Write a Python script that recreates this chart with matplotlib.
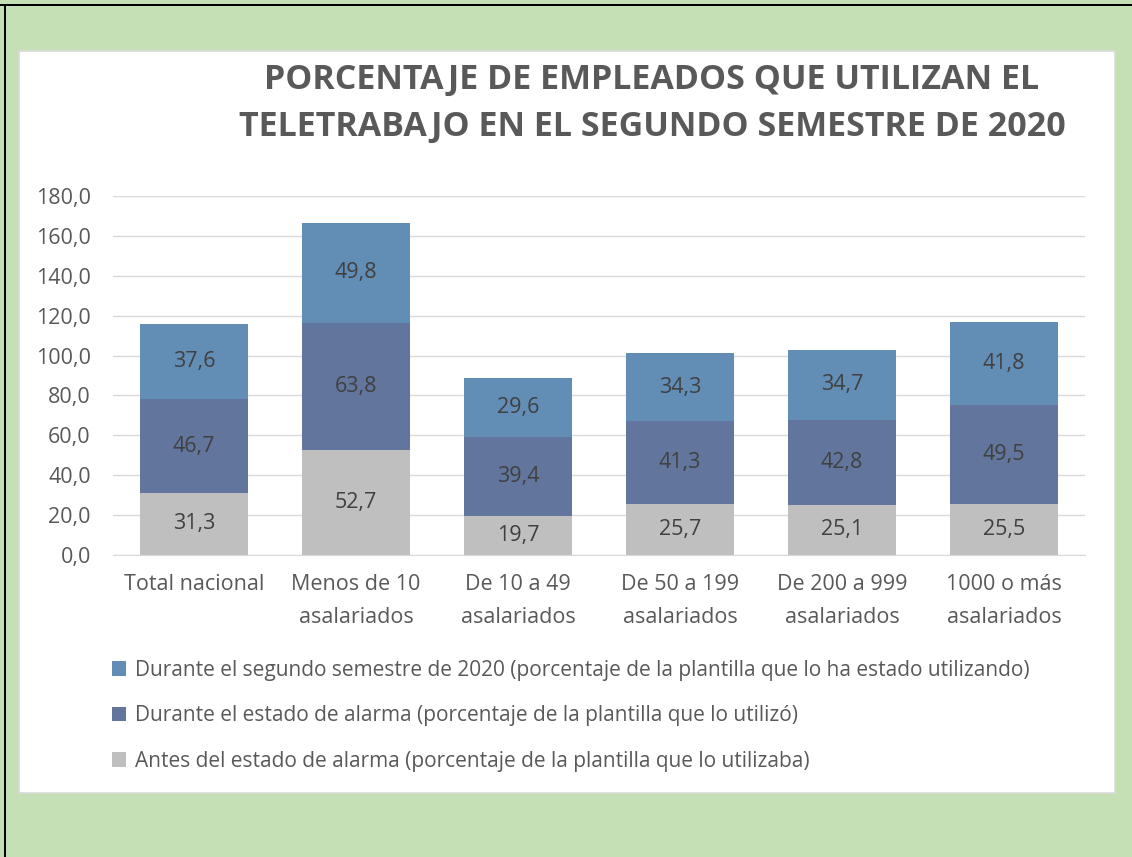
import matplotlib
matplotlib.use("Agg")
import matplotlib.pyplot as plt
from matplotlib.patches import Rectangle
import numpy as np

categories = ["Total nacional", "Menos de 10\nasalariados", "De 10 a 49\nasalariados",
              "De 50 a 199\nasalariados", "De 200 a 999\nasalariados", "1000 o más\nasalariados"]
antes = [31.3, 52.7, 19.7, 25.7, 25.1, 25.5]
alarma = [46.7, 63.8, 39.4, 41.3, 42.8, 49.5]
segundo = [37.6, 49.8, 29.6, 34.3, 34.7, 41.8]
series_names = ["Antes del estado de alarma (porcentaje de la plantilla que lo utilizaba)",
                "Durante el estado de alarma (porcentaje de la plantilla que lo utilizó)",
                "Durante el segundo semestre de 2020 (porcentaje de la plantilla que lo ha estado utilizando)"]
yticks = [0, 20, 40, 60, 80, 100, 120, 140, 160, 180]
title = "PORCENTAJE DE EMPLEADOS QUE UTILIZAN EL\nTELETRABAJO EN EL SEGUNDO SEMESTRE DE 2020"

plt.rcParams['font.family'] = ['Open Sans', 'DejaVu Sans']
W, H = 1132, 857
fig = plt.figure(figsize=(W / 100, H / 100), dpi=100)
fig.patch.set_facecolor("#C5E0B4")

def fx(x): return x / W
def fy(y): return 1 - y / H

# black border top/left
fig.add_artist(Rectangle((0, fy(6)), 1, 2 / H, transform=fig.transFigure, color="black", lw=0, zorder=-5))
fig.add_artist(Rectangle((fx(4), 0), 2 / W, fy(4), transform=fig.transFigure, color="black", lw=0, zorder=-5))
# white panel
fig.add_artist(Rectangle((fx(19), fy(793)), fx(1115) - fx(19), fy(51) - fy(793),
                         transform=fig.transFigure, facecolor="white", edgecolor="#D9D9D9", lw=1.2,
                         zorder=-5))

ax = fig.add_axes([fx(113), fy(555), fx(1085) - fx(113), fy(196) - fy(555)])
ax.set_zorder(2)
ax.set_facecolor("none")
x = np.arange(len(categories))
colors = ["#BFBFBF", "#62769D", "#628DB5"]
w = 0.667
bottom = np.zeros(len(categories))
text_color = "#404040"
bars = []
for vals, c, name in zip([antes, alarma, segundo], colors, series_names):
    b = ax.bar(x, vals, w, bottom=bottom, color=c, label=name, zorder=2)
    bars.append(b)
    for xi, v, bt in zip(x, vals, bottom):
        ax.text(xi, bt + v / 2, f"{v:.1f}".replace(".", ","), ha="center", va="center",
                fontsize=15.5, color=text_color, zorder=3)
    bottom = bottom + np.array(vals)

ax.set_xlim(-0.5, len(categories) - 0.5)
ax.set_ylim(0, 180)
ax.set_yticks(yticks)
ax.set_yticklabels([f"{t:.1f}".replace(".", ",") for t in yticks], fontsize=15.5, color="#595959")
ax.set_xticks(x)
ax.set_xticklabels(categories, fontsize=15.5, color="#595959", linespacing=1.7)
ax.tick_params(axis="y", length=0, pad=16)
ax.tick_params(axis="x", length=0, pad=14)
ax.yaxis.grid(True, color="#D9D9D9", lw=1, zorder=0)
for s in ["top", "right", "left"]:
    ax.spines[s].set_visible(False)
ax.spines["bottom"].set_color("#D9D9D9")
ax.set_axisbelow(True)

fig.text(fx(652), fy(103.5), title, ha="center", va="center", fontsize=24.5, fontweight="bold",
         color="#595959", linespacing=1.5)

handles = [bars[2], bars[1], bars[0]]
labels = [series_names[2], series_names[1], series_names[0]]
leg = fig.legend(handles, labels, loc="upper left", bbox_to_anchor=(fx(93), fy(641)),
                 frameon=False, fontsize=15, labelcolor="#595959", handlelength=0.7,
                 handleheight=0.7, handletextpad=0.4, labelspacing=1.17)

fig.savefig("out.png", dpi=100, facecolor=fig.get_facecolor())
